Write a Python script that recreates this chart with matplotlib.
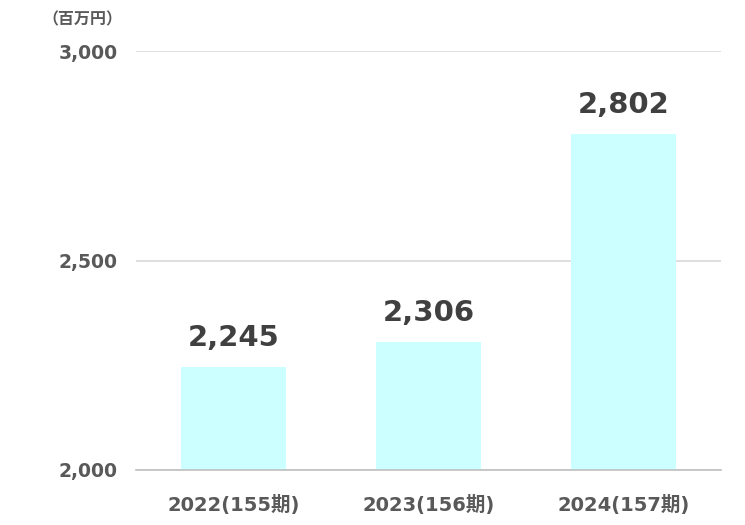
import matplotlib
matplotlib.use("Agg")
import matplotlib.pyplot as plt

categories = ["2022(155期)", "2023(156期)", "2024(157期)"]
values = [2245, 2306, 2802]
yticks = [2000, 2500, 3000]

plt.rcParams['font.family'] = ['DejaVu Sans', 'Noto Sans CJK JP']

fig = plt.figure(figsize=(7.45, 5.25), dpi=100)
ax = fig.add_axes([136/745, 55/525, 585/745, 419/525])

x = range(len(categories))
ax.bar(x, values, width=0.54, color="#CCFFFF", zorder=2, bottom=0)
ax.set_ylim(2000, 3000)
ax.set_xlim(-0.5, 2.5)
ax.set_yticks(yticks)
ax.set_yticklabels([f"{v:,}" for v in yticks], fontsize=13.5, fontweight='bold', color="#595959")
ax.set_xticks(list(x))
ax.set_xticklabels(categories, fontsize=14, fontweight='bold', color="#595959")
ax.tick_params(axis='both', length=0)
ax.tick_params(axis='y', pad=13)
ax.tick_params(axis='x', pad=18)
ax.grid(axis='y', color="#D9D9D9", linewidth=1.2, zorder=0)
for s in ['top', 'right', 'left']:
    ax.spines[s].set_visible(False)
ax.spines['bottom'].set_color("#BFBFBF")
ax.spines['bottom'].set_linewidth(1.2)

for xi, v in zip(x, values):
    ax.annotate(f"{v:,}", (xi, v), xytext=(0, 11), textcoords='offset points',
                ha='center', va='bottom', fontsize=21, fontweight='bold', color="#404040")

fig.text(82/745, 1 - 20/525, "（百万円）", ha='center', va='center', fontsize=11.5, fontweight='bold', color="#595959")

fig.savefig("out.png", dpi=100)
